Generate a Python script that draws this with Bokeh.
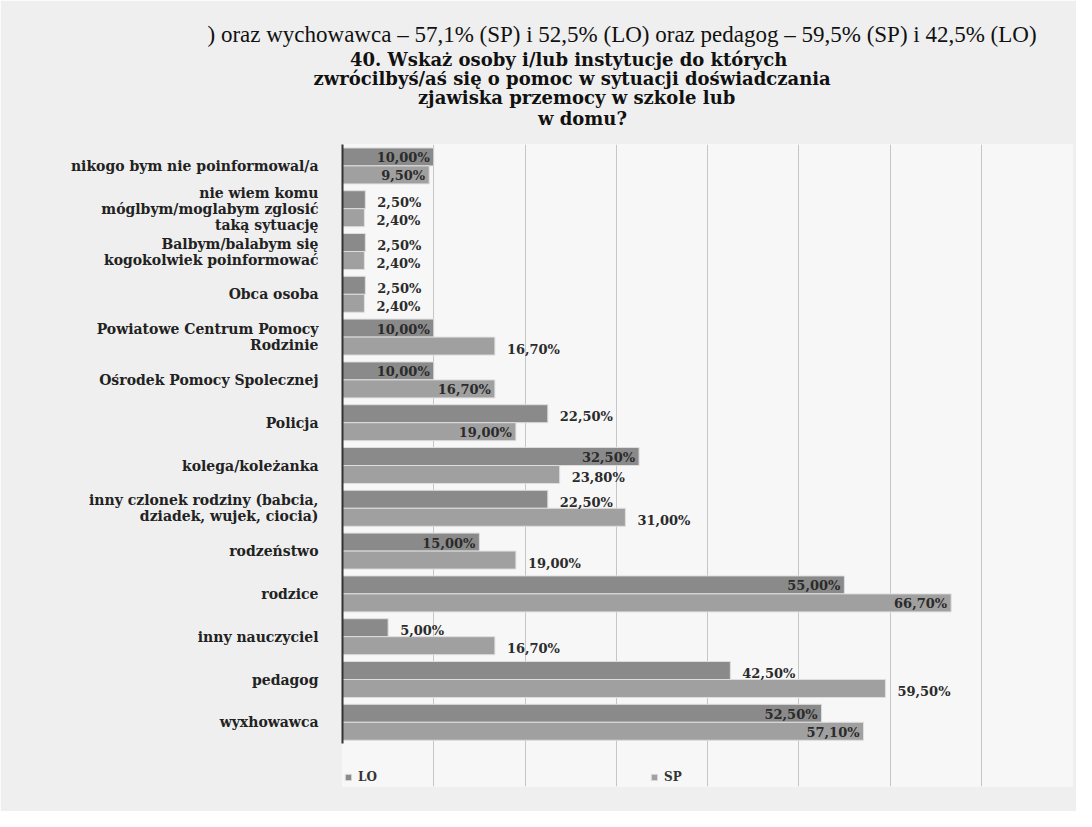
from bokeh.plotting import figure
from bokeh.models import (ColumnDataSource, FactorRange, Range1d, Legend, LegendItem,
                          Title, FixedTicker)
from bokeh.transform import dodge
from bokeh.core.properties import value
from bokeh.embed import file_html
from bokeh.resources import INLINE

# ---------------- data ----------------
categories = [
    "nikogo bym nie poinformowal/a",
    "nie wiem komu\nmóglbym/moglabym zglosić\ntaką sytuację",
    "Balbym/balabym się\nkogokolwiek poinformować",
    "Obca osoba",
    "Powiatowe Centrum Pomocy\nRodzinie",
    "Ośrodek Pomocy Spolecznej",
    "Policja",
    "kolega/koleżanka",
    "inny czlonek rodziny (babcia,\ndziadek, wujek, ciocia)",
    "rodzeństwo",
    "rodzice",
    "inny nauczyciel",
    "pedagog",
    "wyxhowawca",
]
lo_values = [10.0, 2.5, 2.5, 2.5, 10.0, 10.0, 22.5, 32.5, 22.5, 15.0, 55.0, 5.0, 42.5, 52.5]
sp_values = [9.5, 2.4, 2.4, 2.4, 16.7, 16.7, 19.0, 23.8, 31.0, 19.0, 66.7, 16.7, 59.5, 57.1]
series_names = ["LO", "SP"]
# where Excel put each data label: inside the bar end or outside it
lo_label_place = ["in", "out", "out", "out", "in", "in", "out", "in", "out", "in", "in", "out", "out", "in"]
sp_label_place = ["in", "out", "out", "out", "out", "in", "in", "out", "out", "out", "in", "out", "out", "in"]

title_lines = [
    "40. Wskaż  osoby i/lub instytucje do których",
    "zwrócilbyś/aś  się o pomoc w sytuacji doświadczania",
    "zjawiska  przemocy w szkole lub",
    "w domu?",
]
page_text = ") oraz wychowawca – 57,1% (SP) i 52,5% (LO) oraz pedagog – 59,5% (SP) i 42,5% (LO)"

x_max = 80
grid_ticks = [10, 20, 30, 40, 50, 60, 70, 80]

# ---------------- styles ----------------
LO_COLOR = "#8a8a8a"
SP_COLOR = "#a0a0a0"
SERIF = "DejaVu Serif"
TITLE_SIZE = 18
N = len(categories)
CAT_PX = 42.8
BLANK = " "          # empty strip under the bars that holds the legend


def fmt(v):
    return f"{v:.2f}".replace(".", ",") + "%"


src = ColumnDataSource(dict(cat=categories, lo=lo_values, sp=sp_values))

p = figure(frame_width=730, frame_height=round(CAT_PX * (N + 1)),
           y_range=FactorRange(factors=[BLANK] + categories[::-1]),
           x_range=Range1d(0, x_max),
           output_backend="svg", toolbar_location=None,
           min_border_left=342, min_border_right=4,
           min_border_top=144, min_border_bottom=25)

p.border_fill_color = "#efefef"
p.background_fill_color = "#f7f7f7"
p.outline_line_color = None

r_lo = p.hbar(y=dodge("cat", 0.21, range=p.y_range), right="lo", left=0, height=0.42,
              source=src, fill_color=LO_COLOR, line_color="#dedede", line_width=1)
r_sp = p.hbar(y=dodge("cat", -0.21, range=p.y_range), right="sp", left=0, height=0.42,
              source=src, fill_color=SP_COLOR, line_color="#dedede", line_width=1)


def add_labels(vals, places, shift):
    for place in ("in", "out"):
        idx = [i for i, pl in enumerate(places) if pl == place]
        s = ColumnDataSource(dict(cat=[categories[i] for i in idx],
                                  x=[vals[i] for i in idx],
                                  t=[fmt(vals[i]) for i in idx]))
        p.text(x="x", y=dodge("cat", shift, range=p.y_range), text="t", source=s,
               text_align="right" if place == "in" else "left",
               x_offset=-4 if place == "in" else 12,
               y_offset=1 if place == "in" else 3,
               text_baseline="middle",
               text_font=value(SERIF), text_font_style="bold",
               text_font_size="13px", text_color="#2b2b2b")


add_labels(lo_values, lo_label_place, 0.21)
add_labels(sp_values, sp_label_place, -0.21)

# axes & grid
p.xaxis.visible = False
p.xgrid.ticker = FixedTicker(ticks=grid_ticks)
p.xgrid.grid_line_color = "#c6c6c6"
p.ygrid.grid_line_color = None

p.yaxis.bounds = (1, N + 1)
p.yaxis.axis_line_color = "#333333"
p.yaxis.axis_line_width = 2
p.yaxis.major_tick_line_color = None
p.yaxis.minor_tick_line_color = None
p.yaxis.major_label_standoff = 18
p.yaxis.major_label_text_font = SERIF
p.yaxis.major_label_text_font_style = "bold"
p.yaxis.major_label_text_font_size = "14px"
p.yaxis.major_label_text_line_height = 1.0
p.yaxis.major_label_text_color = "#222222"

# legend in the strip under the bars
legend = Legend(items=[LegendItem(label=series_names[0], renderers=[r_lo]),
                       LegendItem(label=series_names[1], renderers=[r_sp])],
                orientation="horizontal", location=(2, 2), spacing=272,
                glyph_width=8, glyph_height=8, label_standoff=6, padding=0, margin=0,
                label_text_font=SERIF, label_text_font_style="bold",
                label_text_font_size="12px", label_text_color="#333333",
                border_line_color=None, background_fill_alpha=0)
p.add_layout(legend)

# titles: added nearest-to-frame first
p.add_layout(Title(text=" ", text_font_size="12px", standoff=0), "above")
est_char_w = 0.58 * TITLE_SIZE
for i, line in enumerate(reversed(title_lines)):
    w = len(" ".join(line.split())) * est_char_w
    p.add_layout(Title(text=line, align="left", offset=232 - w / 2,
                       standoff=0 if i == 0 else -4,
                       text_font=SERIF, text_font_style="bold",
                       text_font_size=f"{TITLE_SIZE}px", text_color="#111111"), "above")
p.add_layout(Title(text=page_text, align="left", offset=-135, standoff=4,
                   text_font="Liberation Serif", text_font_style="normal",
                   text_font_size="23px", text_color="#111111"), "above")

open("out.html", "w").write(file_html(p, INLINE))
